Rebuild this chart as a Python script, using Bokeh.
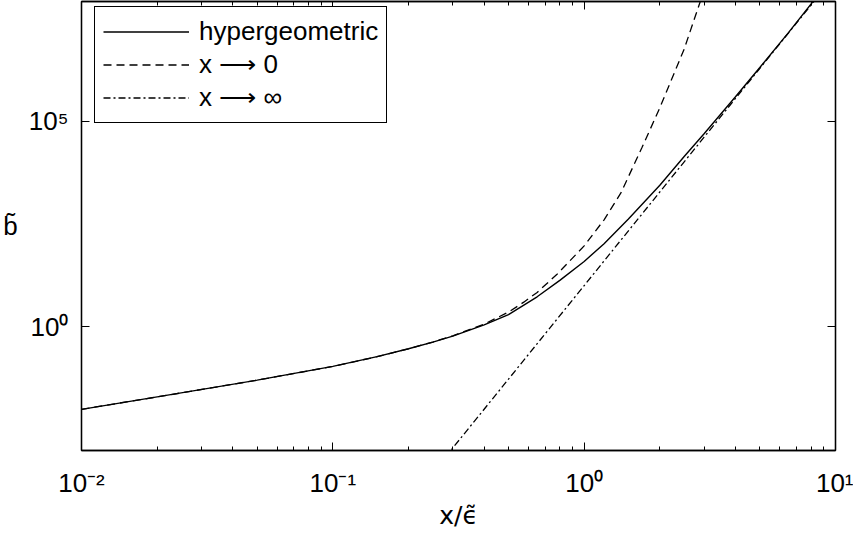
from bokeh.plotting import figure
from bokeh.models import LogAxis, FixedTicker, Legend, LegendItem, Range1d
from bokeh.embed import file_html
from bokeh.resources import INLINE

# ---- data ----
x_hyp = [0.01, 0.02, 0.05, 0.1, 0.15, 0.2, 0.25, 0.3, 0.4, 0.5, 0.65, 0.8,
         1.0, 1.2, 1.5, 2.0, 2.5, 3.0, 4.0, 5.0, 6.5, 8.3, 9.0]
y_hyp = [1.0e-2, 2.0e-2, 5.1e-2, 1.1e-1, 1.9e-1, 2.95e-1, 4.3e-1, 6.0e-1, 1.12,
         2.0, 5.4, 13.5, 39.0, 105.0, 417.0, 2.75e3, 1.38e4, 4.9e4, 3.9e5,
         2.0e6, 1.4e7, 9.3e7, 1.74e8]

x_small = [0.01, 0.02, 0.05, 0.1, 0.15, 0.2, 0.25, 0.3, 0.4, 0.5, 0.575, 0.65,
           0.78, 1.0, 1.2, 1.4, 1.7, 2.0, 2.5, 2.93, 3.1]
y_small = [1.0e-2, 2.0e-2, 5.1e-2, 1.1e-1, 1.9e-1, 2.95e-1, 4.3e-1, 6.1e-1, 1.17,
           2.3, 4.0, 6.9, 19.0, 93.0, 400.0, 1.8e3, 2.3e4, 2.1e5, 5.6e6, 9.8e7,
           2.6e8]

x_large = [0.28, 0.3, 1.0, 3.0, 9.0]
y_large = [6.8e-4, 1.15e-3, 10.1, 4.05e4, 1.6e8]

labels = ["hypergeometric", "x \u27f6 0", "x \u27f6 \u221e"]

x_major = [0.01, 0.1, 1.0, 10.0]
x_major_labels = ["10\u207b\u00b2", "10\u207b\u00b9", "10\u2070", "10\u00b9"]
x_minor = [k * 10.0 ** e for e in (-2, -1, 0) for k in range(2, 10)]
y_major = [1e-5, 1.0, 1e5, 1e10]
y_major_labels = ["10\u207b\u2075", "10\u2070", "10\u2075", "10\u00b9\u2070"]

FONT = "Liberation Sans"

p = figure(width=853, height=532, x_axis_type="log", y_axis_type="log",
           x_range=Range1d(0.01, 10.0), y_range=Range1d(1e-3, 10 ** 7.903),
           output_backend="svg", toolbar_location=None,
           min_border_left=78, min_border_right=18, min_border_top=1,
           min_border_bottom=81)
p.background_fill_color = "white"
p.border_fill_color = "white"
p.outline_line_color = "black"
p.outline_line_width = 1.3
p.xgrid.visible = False
p.ygrid.visible = False

xt = FixedTicker(ticks=x_major, minor_ticks=x_minor)
yt = FixedTicker(ticks=y_major)


def style_axis(ax, ticker, minor=True):
    ax.ticker = ticker
    ax.axis_line_color = "black"
    ax.axis_line_width = 1.3
    ax.major_tick_line_color = "black"
    ax.major_tick_in = 8
    ax.major_tick_out = 0
    if minor:
        ax.minor_tick_line_color = "black"
        ax.minor_tick_in = 4
        ax.minor_tick_out = 0
    else:
        ax.minor_tick_line_color = None
    ax.major_label_text_font = FONT
    ax.major_label_text_font_size = "26px"
    ax.major_label_text_color = "black"
    ax.axis_label_text_color = "black"


bx = p.xaxis[0]
style_axis(bx, xt)
bx.major_label_overrides = dict(zip(x_major, x_major_labels))
bx.major_label_standoff = 17
bx.axis_label = "x/\u03f5\u0303"
bx.axis_label_text_font = "DejaVu Sans"
bx.axis_label_text_font_size = "25px"
bx.axis_label_text_font_style = "normal"
bx.axis_label_standoff = 0

ly = p.yaxis[0]
style_axis(ly, yt, minor=False)
ly.major_label_overrides = dict(zip(y_major, y_major_labels))
ly.major_label_standoff = 13
ly.axis_label = "b\u0303"
ly.axis_label_orientation = "horizontal"
ly.axis_label_text_font = FONT
ly.axis_label_text_font_size = "26px"
ly.axis_label_text_font_style = "normal"
ly.axis_label_standoff = 8

top = LogAxis()
style_axis(top, xt)
top.major_label_overrides = {v: "" for v in x_major}
top.major_label_text_font_size = "0px"
top.major_label_standoff = 0
p.add_layout(top, "above")

right = LogAxis()
style_axis(right, yt, minor=False)
right.major_label_overrides = {v: "" for v in y_major}
right.major_label_text_font_size = "0px"
right.major_label_standoff = 0
p.add_layout(right, "right")

r1 = p.line(x_hyp, y_hyp, line_color="black", line_width=1.4)
r2 = p.line(x_small, y_small, line_color="black", line_width=1.3, line_dash="8 5")
r3 = p.line(x_large, y_large, line_color="black", line_width=1.3, line_dash="7 3 2 3")

legend = Legend(items=[LegendItem(label=labels[0], renderers=[r1]),
                       LegendItem(label=labels[1], renderers=[r2]),
                       LegendItem(label=labels[2], renderers=[r3])],
                location=(13, 327), padding=8, spacing=0,
                label_height=33, glyph_height=33, glyph_width=86,
                label_standoff=10, label_text_font=FONT,
                label_text_font_size="26px", label_text_color="black",
                border_line_color="black", border_line_width=1.3,
                border_line_alpha=1.0,
                background_fill_color="white", background_fill_alpha=1.0)
p.add_layout(legend)

open("out.html", "w").write(file_html(p, INLINE))
